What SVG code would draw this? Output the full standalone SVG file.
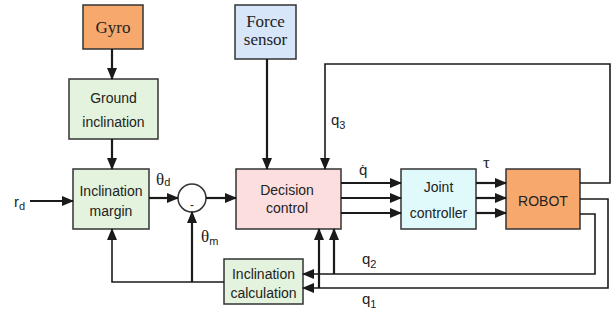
<svg xmlns="http://www.w3.org/2000/svg" width="616" height="320" viewBox="0 0 616 320">
<defs>
<marker id="ah" markerUnits="userSpaceOnUse" markerWidth="12" markerHeight="10" refX="11" refY="5" orient="auto">
<path d="M0,0 L12,5 L0,10 Z" fill="#1a1a1a"/>
</marker>
</defs>
<style>
.box{stroke:#333;stroke-width:1.5}
.orange{fill:#F7A86C}
.green{fill:#E3F3DD}
.pink{fill:#FCDEDE}
.cyan{fill:#E0FAFC}
.blue{fill:#D8E6FA}
.t{font-family:"Liberation Sans",Arial,sans-serif;font-size:14px;fill:#222;text-anchor:middle}
.s{font-family:"Liberation Serif","Times New Roman",serif;font-size:17px;fill:#222;text-anchor:middle}
.lbl{font-family:"Liberation Sans",Arial,sans-serif;font-size:15px;fill:#222}
.gr{font-family:"Liberation Serif","Times New Roman",serif;font-size:17px;fill:#222}
.sub{font-size:11px}
.c{fill:none;stroke:#1a1a1a;stroke-width:2.2}
.c2{fill:none;stroke:#1a1a1a;stroke-width:1.6}
</style>
<rect width="616" height="320" fill="#fff"/>
<g id="gyro"><rect class="box orange" x="83" y="5" width="60" height="44"/><text class="s" x="113" y="33">Gyro</text></g>
<g id="ground"><rect class="box green" x="69" y="79" width="89" height="60"/><text class="t" x="113.5" y="103">Ground</text><text class="t" x="113.5" y="127">inclination</text></g>
<g id="force"><rect class="box blue" x="235" y="5" width="61" height="54"/><text class="s" x="265.5" y="27">Force</text><text class="s" x="265.5" y="45">sensor</text></g>
<g id="margin"><rect class="box green" x="73" y="169" width="76" height="60"/><text class="t" x="111" y="196">Inclination</text><text class="t" x="111" y="216">margin</text></g>
<g id="sum"><circle cx="192" cy="198" r="14" fill="#fff" stroke="#333" stroke-width="1.5"/><text class="t" x="192" y="209" style="font-size:12px">-</text></g>
<g id="decision"><rect class="box pink" x="236" y="169" width="105" height="60"/><text class="t" x="287" y="195">Decision</text><text class="t" x="287" y="213">control</text></g>
<g id="joint"><rect class="box cyan" x="401" y="169" width="75" height="60"/><text class="t" x="438.5" y="192">Joint</text><text class="t" x="438.5" y="218">controller</text></g>
<g id="robot"><rect class="box orange" x="506" y="169" width="74" height="60"/><text class="t" x="543" y="206">ROBOT</text></g>
<g id="calc"><rect class="box green" x="224" y="259" width="79" height="45"/><text class="t" x="263.5" y="279">Inclination</text><text class="t" x="263.5" y="298">calculation</text></g>
<g id="connectors">
<path class="c" d="M112,49 V79" marker-end="url(#ah)"/>
<path class="c" d="M112,139 V169" marker-end="url(#ah)"/>
<path class="c" d="M30,201 H73" marker-end="url(#ah)"/>
<path class="c" d="M149,198 H178" marker-end="url(#ah)"/>
<path class="c" d="M206,198 H236" marker-end="url(#ah)"/>
<path class="c" d="M267,59 V169" marker-end="url(#ah)"/>
<path class="c2" d="M580,183 H610 V64 H325 V169" marker-end="url(#ah)"/>
<path class="c" d="M341,183 H401" marker-end="url(#ah)"/>
<path class="c" d="M341,198 H401" marker-end="url(#ah)"/>
<path class="c" d="M341,213 H401" marker-end="url(#ah)"/>
<path class="c" d="M476,183 H506" marker-end="url(#ah)"/>
<path class="c" d="M476,198 H506" marker-end="url(#ah)"/>
<path class="c" d="M476,213 H506" marker-end="url(#ah)"/>
<path class="c2" d="M580,199 H608 V288 H303" marker-end="url(#ah)"/>
<path class="c" d="M319,288 V229" marker-end="url(#ah)"/>
<path class="c2" d="M580,214 H595 V274 H303" marker-end="url(#ah)"/>
<path class="c" d="M334,274 V229" marker-end="url(#ah)"/>
<path class="c2" d="M224,282 H112 V229" marker-end="url(#ah)"/>
<path class="c" d="M192,282 V212" marker-end="url(#ah)"/>
</g>
<g id="labels">
<text class="lbl" x="14" y="207">r<tspan class="sub" dy="3">d</tspan></text>
<text class="gr" x="156" y="185">θ<tspan class="lbl sub" dy="1">d</tspan></text>
<text class="gr" x="201" y="242">θ<tspan class="lbl sub" dy="3">m</tspan></text>
<text class="lbl" x="359" y="175">q̇</text>
<text class="gr" x="483" y="168">τ</text>
<text class="lbl" x="331" y="125">q<tspan class="sub" dy="4">3</tspan></text>
<text class="lbl" x="362" y="264">q<tspan class="sub" dy="4">2</tspan></text>
<text class="lbl" x="362" y="304">q<tspan class="sub" dy="4">1</tspan></text>
</g>
</svg>
